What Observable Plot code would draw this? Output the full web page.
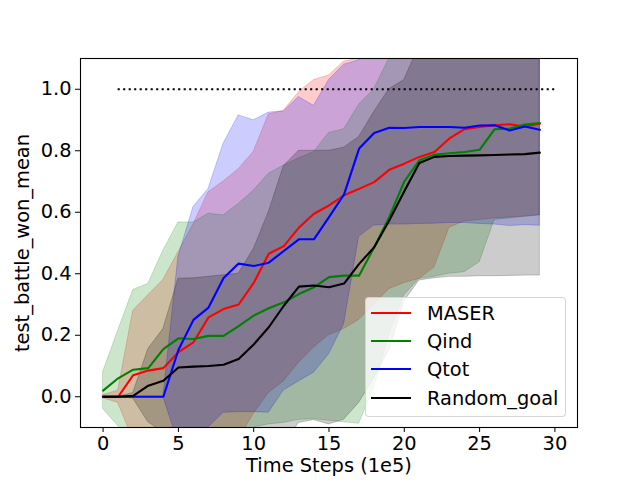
<!DOCTYPE html>
<html><head><meta charset="utf-8">
<script src="https://cdn.jsdelivr.net/npm/d3@7"></script>
<script src="https://cdn.jsdelivr.net/npm/@observablehq/plot@0.6"></script>
<style>
body{margin:0;background:#fff;}
#wrap{position:relative;width:640px;height:480px;font-family:"DejaVu Sans";}
#legend{position:absolute;left:365px;top:297px;width:199px;height:118px;background:rgba(255,255,255,0.8);border:1px solid rgba(204,204,204,0.8);border-radius:4px;box-sizing:content-box;}
.item{position:absolute;left:0;height:28px;display:flex;align-items:center;font-size:19.4px;color:#000;white-space:nowrap;}
.swatch{width:40px;height:0;border-top:2px solid;margin-left:5px;margin-right:16px;}
</style></head>
<body><div id="wrap"><div id="chart"></div><div id="legend"></div></div>
<script>
const steps = [0,1,2,3,4,5,6,7,8,9,10,11,12,13,14,15,16,17,18,19,20,21,22,23,24,25,26,27,28,29];

const maserMean = [0.0,0.0,0.07,0.085,0.093,0.145,0.177,0.258,0.285,0.30,0.37,0.465,0.49,0.55,0.595,0.622,0.655,0.676,0.698,0.738,0.758,0.78,0.796,0.84,0.87,0.877,0.883,0.886,0.879,0.888];
const maserLow  = [-0.005,-0.02,-0.14,-0.16,-0.19,-0.18,-0.205,-0.15,-0.13,-0.14,-0.056,0.012,0.05,0.11,0.16,0.2,0.22,0.25,0.30,0.35,0.37,0.383,0.42,0.55,0.57,0.575,0.58,0.583,0.586,0.59];
const maserHigh = [0.005,0.02,0.28,0.33,0.38,0.47,0.56,0.665,0.70,0.74,0.796,0.918,0.93,0.99,1.03,1.045,1.09,1.10,1.10,1.13,1.15,1.18,1.17,1.13,1.175,1.19,1.2,1.205,1.19,1.206];

const qindMean = [0.02,0.06,0.088,0.093,0.155,0.19,0.188,0.198,0.198,0.23,0.264,0.288,0.307,0.334,0.356,0.389,0.394,0.394,0.486,0.584,0.70,0.769,0.787,0.792,0.796,0.803,0.87,0.872,0.885,0.89];
const qindLow  = [-0.04,-0.095,-0.17,-0.18,-0.165,-0.187,-0.19,-0.2,-0.19,-0.17,-0.1,-0.09,-0.085,-0.075,-0.073,-0.078,-0.083,-0.088,0.03,0.2,0.33,0.383,0.39,0.40,0.405,0.437,0.575,0.58,0.585,0.59];
const qindHigh = [0.08,0.215,0.347,0.367,0.475,0.567,0.567,0.595,0.59,0.627,0.67,0.725,0.752,0.775,0.796,0.858,0.87,0.95,1.0,1.1,1.15,1.155,1.18,1.18,1.19,1.17,1.167,1.165,1.185,1.19];

const qtotMean = [0,0,0,0,0,0.152,0.25,0.29,0.386,0.433,0.425,0.436,0.474,0.512,0.512,0.584,0.658,0.807,0.858,0.875,0.874,0.877,0.877,0.877,0.875,0.882,0.883,0.866,0.879,0.868];
const qtotLow  = [0,0,0,0,0,-0.15,-0.12,-0.1,-0.052,-0.05,-0.05,-0.052,0.02,0.05,0.078,0.138,0.236,0.52,0.557,0.56,0.56,0.562,0.563,0.565,0.565,0.562,0.56,0.555,0.558,0.556];
const qtotHigh = [0,0,0,0,0,0.455,0.617,0.676,0.823,0.915,0.899,0.924,0.928,0.975,0.946,1.03,1.08,1.094,1.159,1.19,1.188,1.192,1.19,1.19,1.185,1.2,1.205,1.18,1.2,1.18];

const randMean = [0,0,0.003,0.036,0.052,0.095,0.098,0.10,0.104,0.123,0.17,0.226,0.296,0.358,0.362,0.356,0.368,0.432,0.486,0.573,0.668,0.76,0.78,0.783,0.784,0.785,0.786,0.788,0.789,0.794];
const randLow  = [0,0,-0.006,-0.083,-0.116,-0.194,-0.19,-0.19,-0.187,-0.154,-0.14,-0.15,-0.16,-0.085,-0.076,-0.09,-0.075,-0.02,0.06,0.15,0.31,0.378,0.385,0.39,0.39,0.392,0.392,0.393,0.394,0.394];
const randHigh = [0,0,0.012,0.155,0.22,0.384,0.385,0.39,0.395,0.40,0.48,0.60,0.75,0.80,0.80,0.80,0.81,0.845,0.926,1.0,1.03,1.142,1.175,1.176,1.178,1.178,1.18,1.183,1.184,1.194];

const seriesNames = ["MASER","Qind","Qtot","Random_goal"];
const seriesColors = ["#ff0000","#008000","#0000ff","#000000"];
const xTicks = [0,5,10,15,20,25,30];
const yTicks = [0.0,0.2,0.4,0.6,0.8,1.0];
const xLabel = "Time Steps (1e5)";
const yLabel = "test_battle_won_mean";
const targetLine = [{x1: 1, x2: 30, y: 1.0}];

const series = [
  {name: seriesNames[0], color: seriesColors[0], mean: maserMean, low: maserLow, high: maserHigh},
  {name: seriesNames[1], color: seriesColors[1], mean: qindMean, low: qindLow, high: qindHigh},
  {name: seriesNames[2], color: seriesColors[2], mean: qtotMean, low: qtotLow, high: qtotHigh},
  {name: seriesNames[3], color: seriesColors[3], mean: randMean, low: randLow, high: randHigh}
];
const tables = series.map(s => steps.map((t, i) => ({t, mean: s.mean[i], low: s.low[i], high: s.high[i]})));

const areaMarks = series.map((s, k) => Plot.areaY(tables[k], {
  x: "t", y1: "low", y2: "high", fill: s.color, fillOpacity: 0.2,
  stroke: s.color, strokeOpacity: 0.2, strokeWidth: 1, clip: true
}));
const lineMarks = series.map((s, k) => Plot.lineY(tables[k], {
  x: "t", y: "mean", stroke: s.color, strokeWidth: 2.1, clip: true
}));

const chart = Plot.plot({
  width: 640, height: 480,
  marginLeft: 80, marginRight: 63, marginTop: 58, marginBottom: 53,
  style: {fontFamily: "DejaVu Sans", fontSize: "19.4px", background: "white", color: "black"},
  x: {domain: [-1.5, 31.5]},
  y: {domain: [-0.1, 1.1]},
  marks: [
    ...areaMarks,
    ...lineMarks,
    Plot.ruleY(targetLine, {y: "y", x1: "x1", x2: "x2", stroke: "black", strokeWidth: 2.1, strokeDasharray: "2.1,3.4"}),
    Plot.frame({stroke: "black", strokeWidth: 1.1}),
    Plot.axisX({ticks: xTicks, tickSize: 5, tickPadding: 4, tickFormat: d => String(d), label: null}),
    Plot.axisY({ticks: yTicks, tickSize: 5, tickPadding: 4, tickFormat: d3.format(".1f"), label: null}),
    Plot.text([xLabel], {text: d => d, frameAnchor: "bottom", dy: 44, fontSize: 19.4, fill: "black", textAnchor: "middle"}),
    Plot.text([yLabel], {text: d => d, frameAnchor: "left", dx: -58, rotate: -90, fontSize: 19.4, fill: "black", textAnchor: "middle"})
  ]
});
document.getElementById("chart").appendChild(chart);

const legend = document.getElementById("legend");
const centers = [15, 43, 71, 100];
series.forEach((s, i) => {
  const item = document.createElement("div");
  item.className = "item";
  item.style.top = (centers[i] - 14) + "px";
  const sw = document.createElement("div");
  sw.className = "swatch";
  sw.style.borderTopColor = s.color;
  const tx = document.createElement("span");
  tx.textContent = s.name;
  item.appendChild(sw); item.appendChild(tx);
  legend.appendChild(item);
});
</script>
</body></html>
